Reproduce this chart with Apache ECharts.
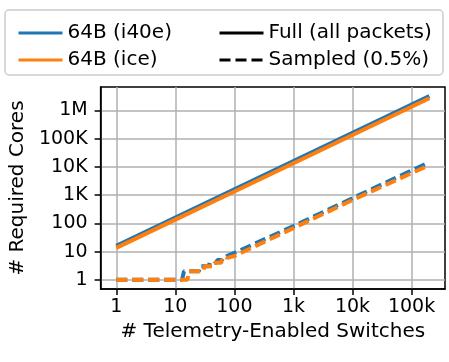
<!DOCTYPE html>
<html>
<head>
<meta charset="utf-8">
<script src="https://cdn.jsdelivr.net/npm/echarts@6/dist/echarts.min.js"></script>
<style>
  html, body { margin: 0; padding: 0; background: #fff; }
  #main { width: 449px; height: 362px; }
</style>
</head>
<body>
<div id="main"></div>
<script>
// values
var xFull = [1, 10, 100, 1000, 10000, 100000, 200000];
var i40eFull = [16, 160, 1600, 16000, 160000, 1600000, 3200000];
var iceFull = [13.5, 135, 1350, 13500, 135000, 1350000, 2700000];

var xSampledI40e = [1, 13, 14, 25, 26, 37, 38, 50, 51, 62, 63, 100, 1000, 10000, 100000, 200000];
var ySampledI40e = [1, 1, 2, 2, 3, 3, 4, 4, 5, 5, 6, 9, 80, 780, 7500, 14500];
var xSampledIce = [1, 16, 17, 30, 31, 45, 46, 60, 61, 75, 76, 100, 1000, 10000, 100000, 200000];
var ySampledIce = [1, 1, 2, 2, 3, 3, 4, 4, 5, 5, 6, 7, 68, 670, 6000, 11500];

var xTicks = [1, 10, 100, 1000, 10000, 100000];
var xTickLabels = ['1', '10', '100', '1k', '10k', '100k'];
var yTicks = [1, 10, 100, 1000, 10000, 100000, 1000000];
var yTickLabels = ['1', '10', '100', '1K', '10K', '100K', '1M'];

var nicNames = ['64B (i40e)', '64B (ice)'];
var modeNames = ['Full (all packets)', 'Sampled (0.5%)'];

function pairs(xs, ys) {
  return xs.map(function (x, i) { return [x, ys[i]]; });
}

var blue = '#1f77b4';
var orange = '#ff7f0e';
var font = 'DejaVu Sans';
var lw = 4;

var chart = echarts.init(document.getElementById('main'), null, { renderer: 'canvas' });

var legendBase = {
  top: 18,
  orient: 'vertical',
  selectedMode: false,
  itemWidth: 44,
  itemHeight: 20,
  itemGap: 7,
  itemTextGap: 16,
  itemStyle: { opacity: 0 },
  lineStyle: { width: 3 },
  textStyle: { fontFamily: font, fontSize: 20, color: '#000' }
};

var option = {
  animation: false,
  backgroundColor: '#fff',
  graphic: [{
    type: 'rect',
    z: -1,
    shape: { x: 5, y: 10, width: 438, height: 65, r: 4 },
    style: { fill: '#fff', stroke: '#cccccc', lineWidth: 1.5 }
  }],
  legend: [
    Object.assign({}, legendBase, { left: 12, data: nicNames }),
    Object.assign({}, legendBase, { left: 213, data: modeNames })
  ],
  grid: {
    left: 98, right: 4, top: 87, bottom: 73,
    show: true, borderColor: '#000', borderWidth: 1.5,
    containLabel: false
  },
  xAxis: {
    type: 'log',
    logBase: 10,
    min: 0.543,
    max: 368000,
    name: '# Telemetry-Enabled Switches',
    nameLocation: 'middle',
    nameGap: 32,
    nameTextStyle: { fontFamily: font, fontSize: 20, color: '#000' },
    axisLine: { show: true, lineStyle: { color: '#000', width: 1.5 } },
    axisTick: { show: true, inside: false, length: 6, lineStyle: { color: '#000', width: 1.5 }, customValues: xTicks },
    axisLabel: {
      fontFamily: font, fontSize: 19, color: '#000', margin: 9,
      customValues: xTicks,
      formatter: function (v) {
        var i = xTicks.indexOf(Math.round(v));
        return i >= 0 ? xTickLabels[i] : '';
      }
    },
    splitLine: { show: true, lineStyle: { color: '#b0b0b0', width: 1.5 } },
    minorTick: { show: false },
    minorSplitLine: { show: false }
  },
  yAxis: {
    type: 'log',
    logBase: 10,
    min: 0.473,
    max: 6760000,
    name: '# Required Cores',
    nameLocation: 'middle',
    nameGap: 72,
    nameTextStyle: { fontFamily: font, fontSize: 20, color: '#000' },
    axisLine: { show: true, lineStyle: { color: '#000', width: 1.5 } },
    axisTick: { show: true, inside: false, length: 6, lineStyle: { color: '#000', width: 1.5 }, customValues: yTicks },
    axisLabel: {
      fontFamily: font, fontSize: 19, color: '#000', margin: 13,
      customValues: yTicks,
      formatter: function (v) {
        var i = yTicks.indexOf(Math.round(v));
        return i >= 0 ? yTickLabels[i] : '';
      }
    },
    splitLine: { show: true, lineStyle: { color: '#b0b0b0', width: 1.5 } },
    minorTick: { show: false },
    minorSplitLine: { show: false }
  },
  series: [{
    name: nicNames[0],
    type: 'line',
    symbol: 'none',
    color: blue,
    lineStyle: { color: blue, width: lw },
    data: pairs(xFull, i40eFull)
  }, {
    name: nicNames[1],
    type: 'line',
    symbol: 'none',
    color: orange,
    lineStyle: { color: orange, width: lw },
    data: pairs(xFull, iceFull)
  }, {
    name: nicNames[0] + ' sampled',
    type: 'line',
    symbol: 'none',
    color: blue,
    lineStyle: { color: blue, width: lw, type: [11, 5] },
    data: pairs(xSampledI40e, ySampledI40e)
  }, {
    name: nicNames[1] + ' sampled',
    type: 'line',
    symbol: 'none',
    color: orange,
    lineStyle: { color: orange, width: lw, type: [11, 5] },
    data: pairs(xSampledIce, ySampledIce)
  }, {
    name: modeNames[0],
    type: 'line',
    symbol: 'none',
    color: '#000',
    lineStyle: { color: '#000', width: lw },
    data: []
  }, {
    name: modeNames[1],
    type: 'line',
    symbol: 'none',
    color: '#000',
    lineStyle: { color: '#000', width: lw, type: [11, 5] },
    data: []
  }]
};

chart.setOption(option);
</script>
</body>
</html>
